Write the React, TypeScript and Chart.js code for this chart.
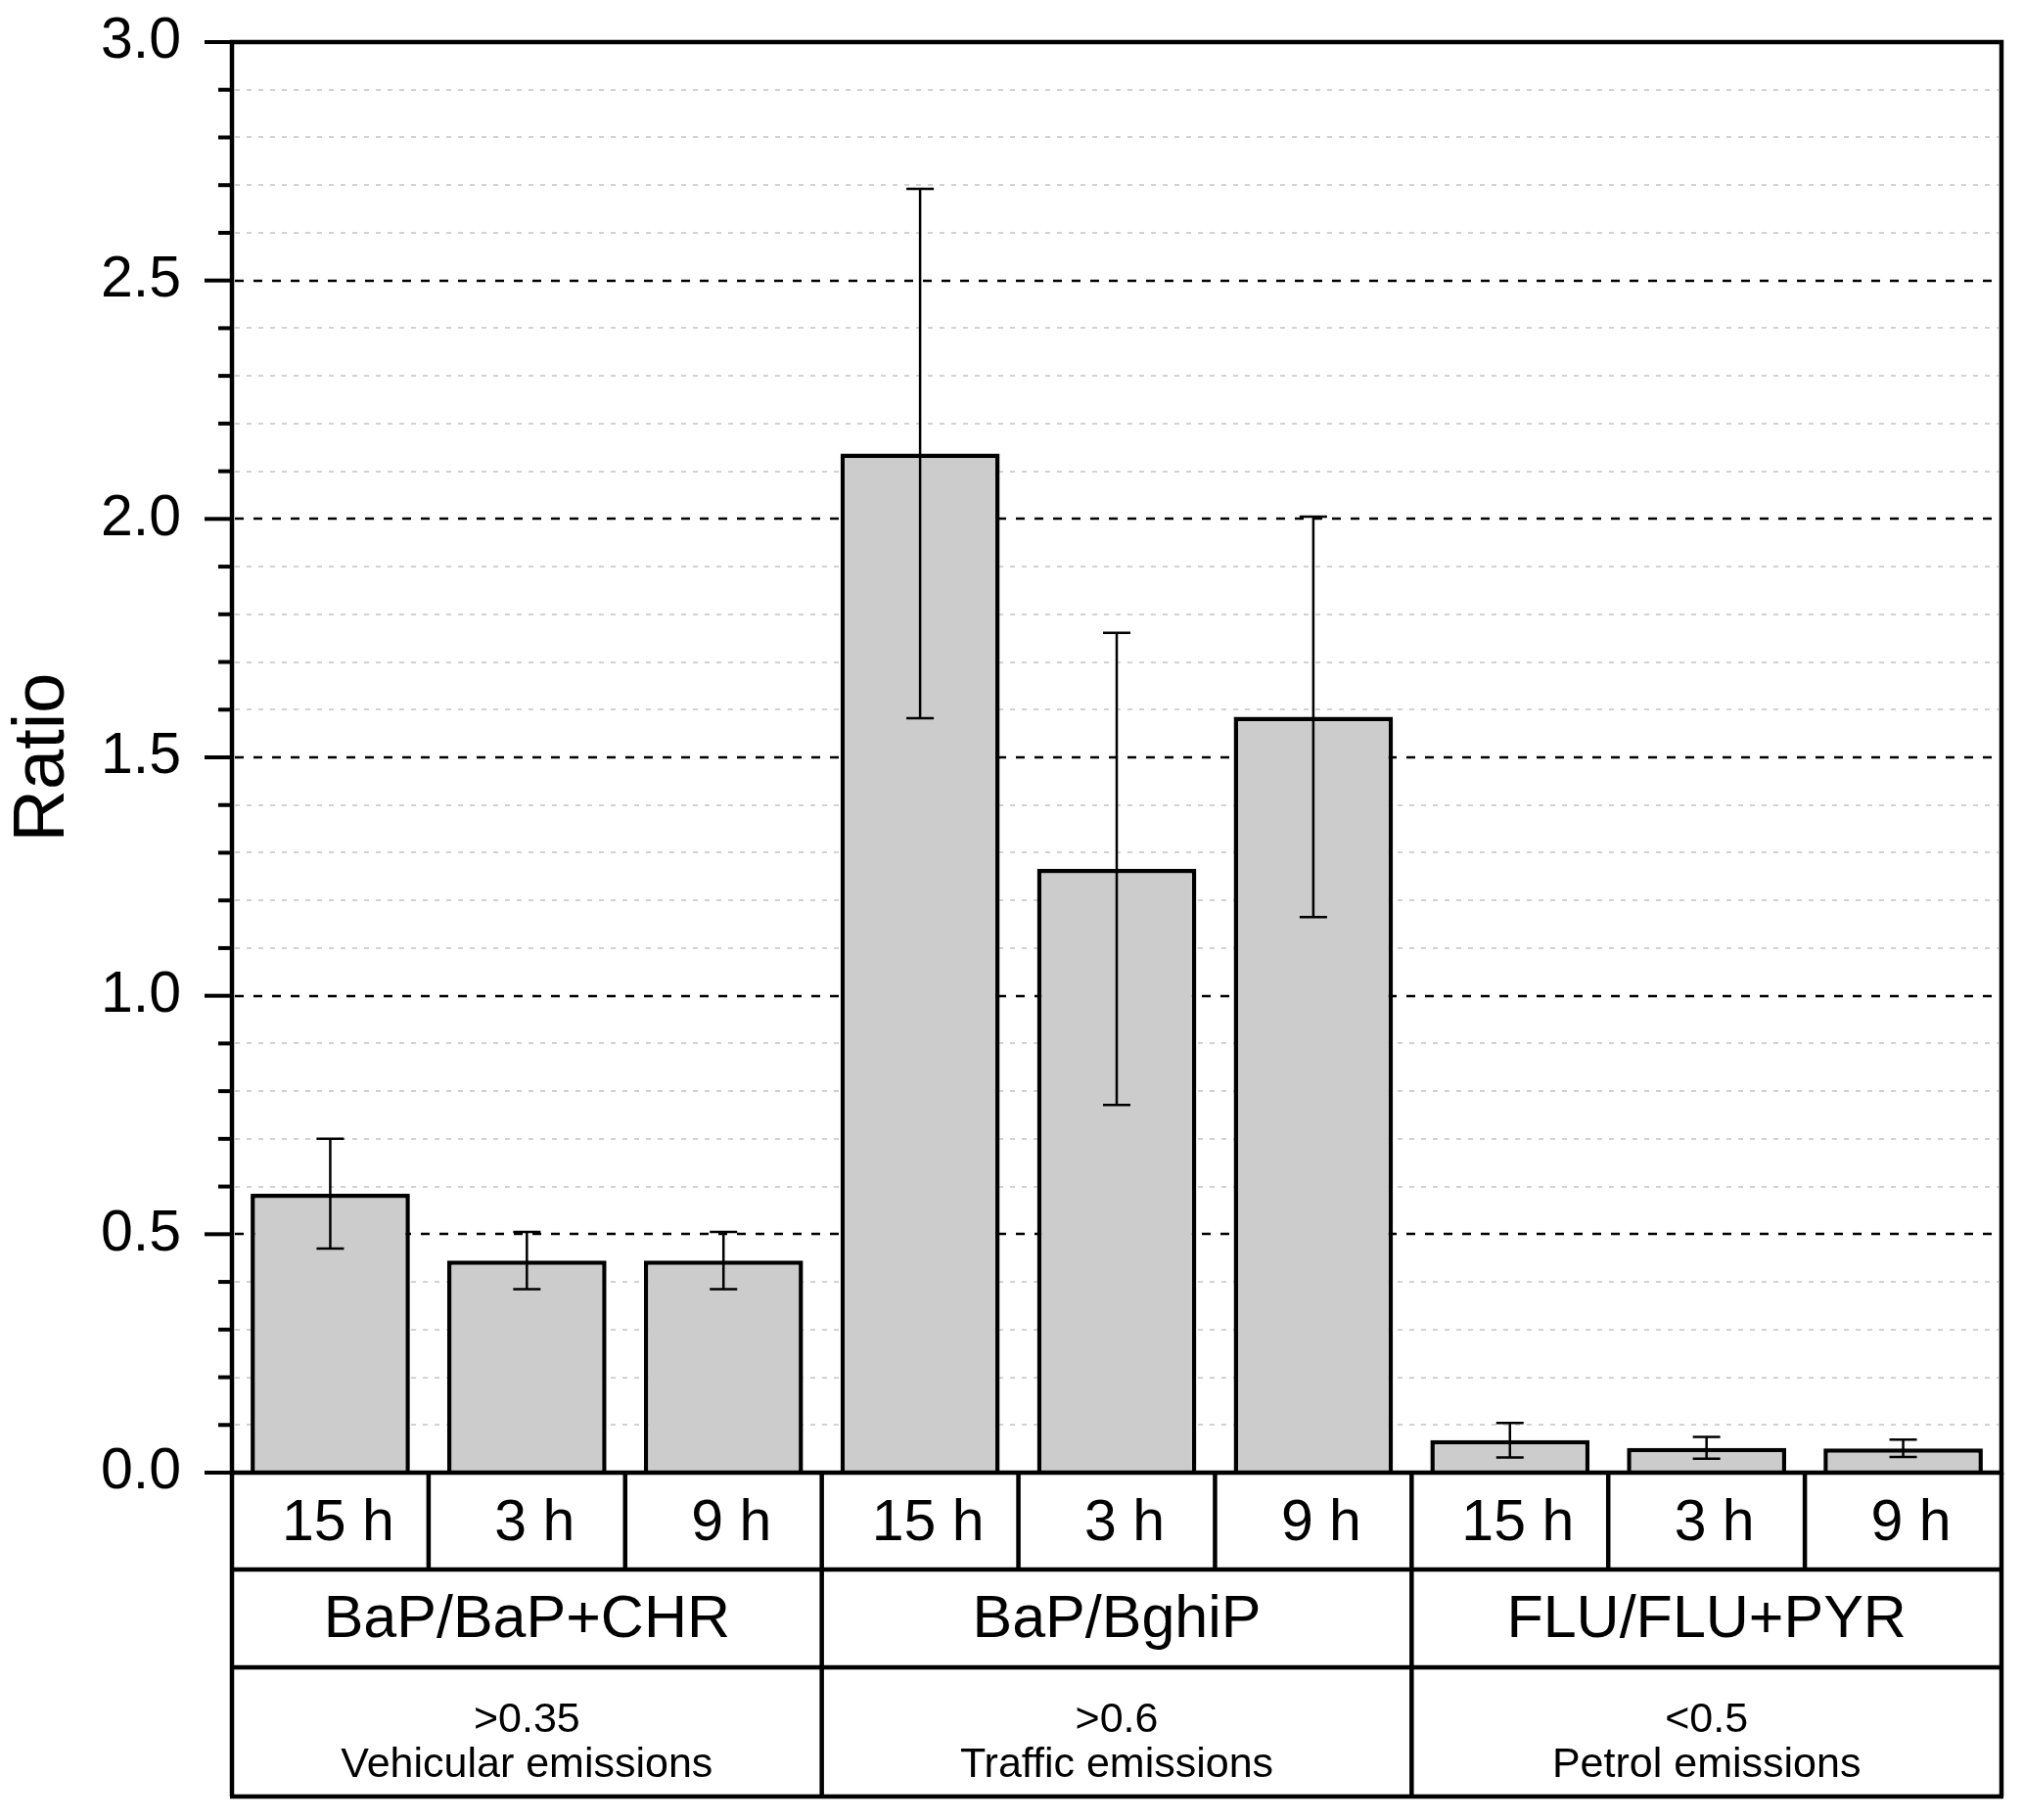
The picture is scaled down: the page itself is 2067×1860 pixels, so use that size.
import React, { useEffect, useRef } from 'react';
import { Chart, registerables } from 'chart.js';

Chart.register(...registerables);

// ---- data ----
const hours = ['15 h', '3 h', '9 h', '15 h', '3 h', '9 h', '15 h', '3 h', '9 h'];
const ratioGroups = ['BaP/BaP+CHR', 'BaP/BghiP', 'FLU/FLU+PYR'];
const thresholds = ['>0.35', '>0.6', '<0.5'];
const sources = ['Vehicular emissions', 'Traffic emissions', 'Petrol emissions'];
const ratioValues = [0.585, 0.445, 0.445, 2.137, 1.266, 1.585, 0.068, 0.052, 0.051];
const ratioErrors = [0.115, 0.06, 0.06, 0.555, 0.495, 0.42, 0.036, 0.023, 0.018];
const yMin = 0;
const yMax = 3;
const yMajorStep = 0.5;
const yMinorStep = 0.1;

const FONT = '"Liberation Sans", Arial, Helvetica, sans-serif';

const decorPlugin = {
  id: 'decor',
  beforeDatasetsDraw(chart: any) {
    const { ctx, chartArea: a, scales } = chart;
    const y = scales.y;
    ctx.save();
    const nMinor = Math.round((yMax - yMin) / yMinorStep);
    const perMajor = Math.round(yMajorStep / yMinorStep);
    // minor grid
    ctx.strokeStyle = '#d2d2d2';
    ctx.lineWidth = 2;
    ctx.setLineDash([5, 7]);
    for (let i = 1; i < nMinor; i++) {
      if (i % perMajor === 0) continue;
      const py = Math.round(y.getPixelForValue(yMin + i * yMinorStep));
      ctx.beginPath();
      ctx.moveTo(a.left + 3, py);
      ctx.lineTo(a.right - 3, py);
      ctx.stroke();
    }
    // major grid
    ctx.strokeStyle = '#000';
    ctx.lineWidth = 2.5;
    ctx.setLineDash([9, 10]);
    for (let i = perMajor; i < nMinor; i += perMajor) {
      const py = Math.round(y.getPixelForValue(yMin + i * yMinorStep));
      ctx.beginPath();
      ctx.moveTo(a.left + 3, py);
      ctx.lineTo(a.right - 3, py);
      ctx.stroke();
    }
    ctx.restore();
  },
  afterDatasetsDraw(chart: any) {
    const { ctx, chartArea: a, scales } = chart;
    const x = scales.x;
    const y = scales.y;
    ctx.save();
    ctx.setLineDash([]);

    // error bars
    ctx.strokeStyle = '#000';
    ctx.lineWidth = 2.5;
    const capHalf = 14;
    ratioValues.forEach((v, i) => {
      const px = x.getPixelForValue(i);
      const top = y.getPixelForValue(v + ratioErrors[i]);
      const bot = y.getPixelForValue(v - ratioErrors[i]);
      ctx.beginPath();
      ctx.moveTo(px, top);
      ctx.lineTo(px, bot);
      ctx.moveTo(px - capHalf, top);
      ctx.lineTo(px + capHalf, top);
      ctx.moveTo(px - capHalf, bot);
      ctx.lineTo(px + capHalf, bot);
      ctx.stroke();
    });

    // axis frame
    ctx.lineWidth = 4.5;
    ctx.lineCap = 'square';
    ctx.beginPath();
    ctx.moveTo(a.left, a.bottom);
    ctx.lineTo(a.left, a.top);
    ctx.lineTo(a.right, a.top);
    ctx.lineTo(a.right, a.bottom);
    ctx.lineTo(a.left, a.bottom);
    ctx.stroke();
    ctx.lineCap = 'butt';

    // y ticks (major & minor)
    ctx.lineWidth = 4;
    const nMinor = Math.round((yMax - yMin) / yMinorStep);
    const perMajor = Math.round(yMajorStep / yMinorStep);
    for (let i = 0; i <= nMinor; i++) {
      const py = y.getPixelForValue(yMin + i * yMinorStep);
      const len = i % perMajor === 0 ? 28 : 14;
      ctx.beginPath();
      ctx.moveTo(a.left - len, py);
      ctx.lineTo(a.left, py);
      ctx.stroke();
    }

    // table below the plot
    const r0 = a.bottom;
    const r1 = r0 + 99;
    const r2 = r1 + 100;
    const r3 = r2 + 132;
    const n = hours.length;
    const half = (x.getPixelForValue(1) - x.getPixelForValue(0)) / 2;
    const boundary = (i: number) => x.getPixelForValue(i) + half; // right edge of cell i
    const perGroup = n / ratioGroups.length;

    ctx.lineWidth = 4.5;
    ctx.beginPath();
    [r1, r2, r3].forEach((ry) => {
      ctx.moveTo(a.left - 2, ry);
      ctx.lineTo(a.right + 2, ry);
    });
    ctx.moveTo(a.left, r0);
    ctx.lineTo(a.left, r3);
    ctx.moveTo(a.right, r0);
    ctx.lineTo(a.right, r3);
    for (let i = 0; i < n - 1; i++) {
      const bx = boundary(i);
      ctx.moveTo(bx, r0);
      ctx.lineTo(bx, (i + 1) % perGroup === 0 ? r3 : r1);
    }
    ctx.stroke();

    ctx.fillStyle = '#000';
    ctx.textAlign = 'center';
    ctx.textBaseline = 'middle';
    ctx.font = `59px ${FONT}`;
    hours.forEach((h, i) => {
      ctx.fillText(h, x.getPixelForValue(i) + 8, (r0 + r1) / 2 + 3);
    });
    ctx.font = `61px ${FONT}`;
    ratioGroups.forEach((g, gi) => {
      const left = gi === 0 ? a.left : boundary(gi * perGroup - 1);
      const right = boundary((gi + 1) * perGroup - 1);
      const cx = (left + right) / 2;
      ctx.fillText(g, cx, (r1 + r2) / 2 + 2);
    });
    ctx.font = `43px ${FONT}`;
    ratioGroups.forEach((_, gi) => {
      const left = gi === 0 ? a.left : boundary(gi * perGroup - 1);
      const right = boundary((gi + 1) * perGroup - 1);
      const cx = (left + right) / 2;
      ctx.fillText(thresholds[gi], cx, r2 + 54);
      ctx.fillText(sources[gi], cx, r2 + 100);
    });
    ctx.restore();
  },
};

export default function App() {
  const canvasRef = useRef<HTMLCanvasElement | null>(null);

  useEffect(() => {
    const canvas = canvasRef.current;
    if (!canvas) return;
    Chart.defaults.font.family = FONT;
    Chart.defaults.color = '#000';
    const chart = new Chart(canvas, {
      type: 'bar',
      data: {
        labels: hours,
        datasets: [
          {
            label: 'Ratio',
            data: ratioValues,
            backgroundColor: '#cccccc',
            borderColor: '#000000',
            borderWidth: 4.5,
            barPercentage: 0.81,
            categoryPercentage: 1.0,
          },
        ],
      },
      options: {
        responsive: false,
        animation: false,
        devicePixelRatio: 1,
        layout: { padding: { left: 0, right: 22, top: 43, bottom: 0 } },
        plugins: {
          legend: { display: false },
          tooltip: { enabled: false },
          title: { display: false },
        },
        scales: {
          x: {
            type: 'category',
            offset: true,
            grid: { display: false, drawTicks: false },
            border: { display: false },
            ticks: { display: false },
            afterFit: (scale: any) => {
              scale.height = 355;
            },
          },
          y: {
            min: yMin,
            max: yMax,
            grid: {
              display: true,
              drawOnChartArea: false,
              drawTicks: true,
              tickLength: 52,
              color: 'rgba(0,0,0,0)',
            },
            border: { display: false },
            ticks: {
              stepSize: yMajorStep,
              padding: 0,
              color: '#000',
              font: { size: 59, family: FONT },
              callback: (v: any) => Number(v).toFixed(1),
            },
            title: {
              display: true,
              text: 'Ratio',
              color: '#000',
              padding: 0,
              font: { size: 74, family: FONT },
            },
            afterFit: (scale: any) => {
              scale.width = 237;
            },
          },
        },
      },
      plugins: [decorPlugin],
    });
    return () => chart.destroy();
  }, []);

  return (
    <div style={{ position: 'fixed', left: 0, top: 0, width: 2067, height: 1860, background: '#fff' }}>
      <canvas ref={canvasRef} width={2067} height={1860} style={{ display: 'block', width: 2067, height: 1860 }} />
    </div>
  );
}
